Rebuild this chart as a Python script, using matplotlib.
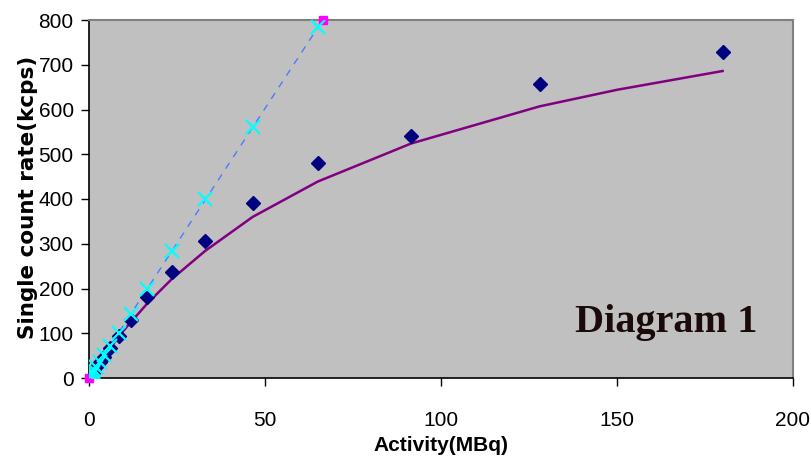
import numpy as np
import matplotlib
matplotlib.use("Agg")
from matplotlib import pyplot as plt

# measured single count rate vs activity
activity = [180, 128, 91.5, 65, 46.5, 33, 23.5, 16.5, 11.8, 8.4, 6.0, 4.2, 3.0, 2.1, 1.5, 1.05, 0.75]
measured = [728, 657, 541, 481, 391, 306, 237, 181, 130, 94, 68, 48, 35, 25, 18, 12, 9]

# expected rate without dead time losses
true_act = [65, 46.5, 33, 23.5, 16.5, 11.8, 8.4, 6.0, 4.2, 3.0, 2.1, 1.5, 1.05, 0.75, 0.5, 0.35]
true_rate = [784, 560, 400, 284, 200, 142, 101, 72, 51, 36, 25, 18, 13, 9, 6, 4]

# dead time model curve
model_act = [180, 150, 128, 91.5, 65, 46.5, 33, 23.5, 16.5, 11.8, 8.4, 6.0, 4.2, 3.0, 2.1, 1.5, 1.05, 0.75, 0]
model_rate = [686, 644, 607, 524, 439, 360, 284, 221, 166, 124, 93, 67, 48, 35, 25, 18, 12.5, 9, 0]

# linear extrapolation
lin_act = [0, 66.4]
lin_rate = [0, 800]

sans = ['Liberation Sans', 'DejaVu Sans']

fig = plt.figure(figsize=(8.12, 4.63), dpi=100)
ax = fig.add_axes([89/812, 85/463, 704/812, 358/463])
ax.set_facecolor('#c0c0c0')

ax.plot(lin_act, lin_rate, '--', color='#4a7cff', lw=1, dashes=(5, 5), zorder=2)
ax.plot(lin_act, lin_rate, 's', color='#ff00ff', ms=6, zorder=5, clip_on=False, ls='none')
ax.plot(model_act, model_rate, '-', color='#800080', lw=1.8, zorder=3)
ax.plot(activity, measured, 'D', color='#000080', ms=7, zorder=4, ls='none')
ax.plot(true_act, true_rate, 'x', color='#00ffff', ms=10, mew=1.6, zorder=6, ls='none')

ax.set_xlim(0, 200)
ax.set_ylim(0, 800)
ax.set_xticks(np.arange(0, 201, 50))
ax.set_yticks(np.arange(0, 801, 100))

for s in ['top', 'right']:
    ax.spines[s].set_color('#808080')
    ax.spines[s].set_linewidth(1.5)
for s in ['left', 'bottom']:
    ax.spines[s].set_color('black')
    ax.spines[s].set_linewidth(1.2)

ax.tick_params(direction='out', length=6, width=1, colors='black')
ax.tick_params(axis='y', pad=5)
ax.tick_params(axis='x', pad=18)
for lab in ax.get_xticklabels() + ax.get_yticklabels():
    lab.set_family(sans)
    lab.set_fontsize(15)

ax.set_xlabel('Activity(MBq)', family=sans, fontsize=15, fontweight='bold', labelpad=4)
ax.set_ylabel('Single count rate(kcps)', family=['DejaVu Sans'], fontsize=15.5, fontweight='bold')
ax.yaxis.set_label_coords(-0.072, 0.505)

ax.text(0.949, 0.128, 'Diagram 1', transform=ax.transAxes, ha='right', va='baseline',
        family=['Liberation Serif', 'DejaVu Serif'], fontsize=29, fontweight='bold', color='#1a0a0a')

fig.savefig('out.png', dpi=100)
